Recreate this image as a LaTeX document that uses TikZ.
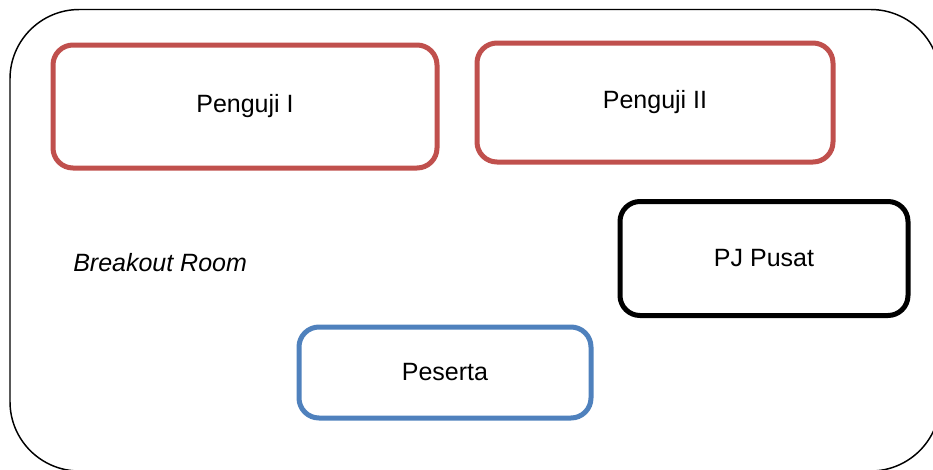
\documentclass[tikz,border=0pt]{standalone}
\usepackage{fontspec}
\setmainfont{Liberation Sans}
\definecolor{pred}{HTML}{C0504D}
\definecolor{pblue}{HTML}{4F81BD}
\begin{document}
\begin{tikzpicture}[x=0.75pt,y=-0.75pt,
  box/.style={draw, line width=3.75pt, rounded corners=15pt, font=\fontsize{18.75}{22}\selectfont, inner sep=0pt},
  lbl/.style={font=\fontsize{18.75}{22}\selectfont\itshape, inner sep=0pt}]
\useasboundingbox (0,0) rectangle (933,469);
\draw[line width=1.1pt, rounded corners=52pt] (10,9.5) rectangle (940,471);
\node[box, pred, text=black, minimum width=384*0.75pt, minimum height=123*0.75pt] (p1) at (245,106.5) {Penguji I};
\node[box, pred, text=black, minimum width=356*0.75pt, minimum height=119*0.75pt] (p2) at (655,102.5) {Penguji II};
\node[box, black, minimum width=288*0.75pt, minimum height=114*0.75pt] (pj) at (764,258.5) {PJ Pusat};
\node[box, pblue, text=black, minimum width=292*0.75pt, minimum height=91*0.75pt] (ps) at (445,372.5) {Peserta};
\node[lbl, anchor=west] (br) at (73,263) {Breakout Room};
\end{tikzpicture}
\end{document}
